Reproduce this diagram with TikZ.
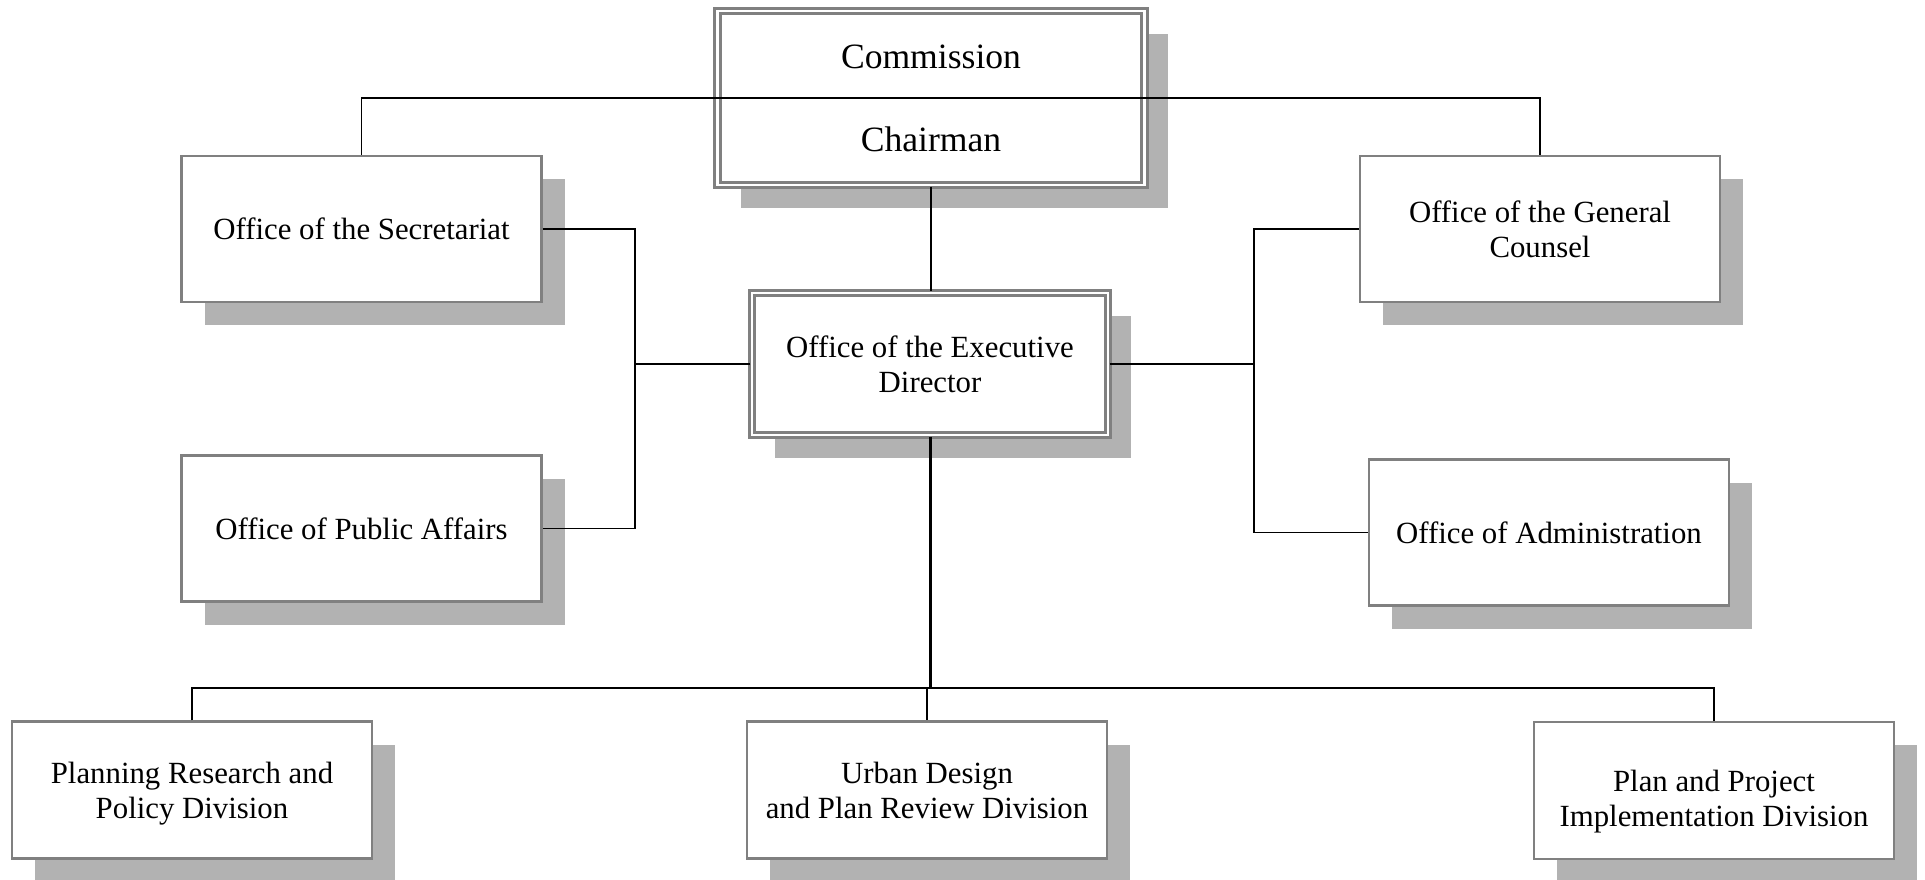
\documentclass[tikz,border=0pt]{standalone}
\usepackage{fontspec}
\setmainfont{Liberation Serif}
\usetikzlibrary{shadows}

\tikzset{
  unitbox/.style={draw=black!50, line width=1.25pt, fill=white, align=center,
    minimum width=180pt, minimum height=73pt, inner sep=0pt,
    font=\fontsize{15.4}{17.5}\selectfont,
    drop shadow={shadow xshift=11.5pt, shadow yshift=-11.5pt, fill=black!30, opacity=1}},
  headbox/.style={unitbox, line width=1.6pt, double=white, double distance=1.1pt},
  divbox/.style={unitbox, minimum height=68.5pt},
  link/.style={line width=0.9pt}
}

\begin{document}
\begin{tikzpicture}[x=0.5pt,y=-0.5pt]%
        \useasboundingbox (0,0) rectangle (1925,879);
        % top level
        \node[headbox, minimum width=213.5pt, minimum height=87pt,
          font=\fontsize{17.8}{41.5}\selectfont] (comm) at (931,98) {Commission\\Chairman};
        \node[headbox, minimum width=178pt, minimum height=71pt] (exec) at (930,364)
          {Office of the Executive\\Director};
        % offices
        \node[unitbox] (secr) at (361.5,229) {Office of the Secretariat};
        \node[unitbox] (pub) at (361.5,528.5) {Office of Public Affairs};
        \node[unitbox] (couns) at (1540,229) {Office of the General\\Counsel};
        \node[unitbox] (admin) at (1549,532.5) {Office of Administration};
        % divisions
        \node[divbox] (plan) at (192,790) {\rule{0pt}{14pt}Planning Research and\\Policy Division};
        \node[divbox] (urban) at (927,790) {Urban Design\\and Plan Review Division};
        \node[divbox] (impl) at (1714,790.5) {\rule{0pt}{22pt}Plan and Project\\Implementation Division};
        % buses
        \coordinate (lbus) at (635,364);
        \coordinate (rbus) at (1254,364);
        \coordinate (bbus) at (930,688);
        % connectors
        \draw[link] (secr.north) |- (comm.center) -| (couns.north);
        \draw[link] (comm.south) -- (comm.south |- exec.north);
        \draw[link] (secr.east) -| (lbus) |- (pub.east);
        \draw[link] (exec.west) -- (lbus);
        \draw[link] (couns.west) -| (rbus) |- (admin.west);
        \draw[link] (exec.east) -- (rbus);
        \draw[link, line width=1.5pt] (exec.south) -- (bbus);
        \draw[link] (plan.north) |- (bbus) -| (impl.north);
        \draw[link] (bbus -| urban.north) -- (urban.north);
\end{tikzpicture}
\end{document}
